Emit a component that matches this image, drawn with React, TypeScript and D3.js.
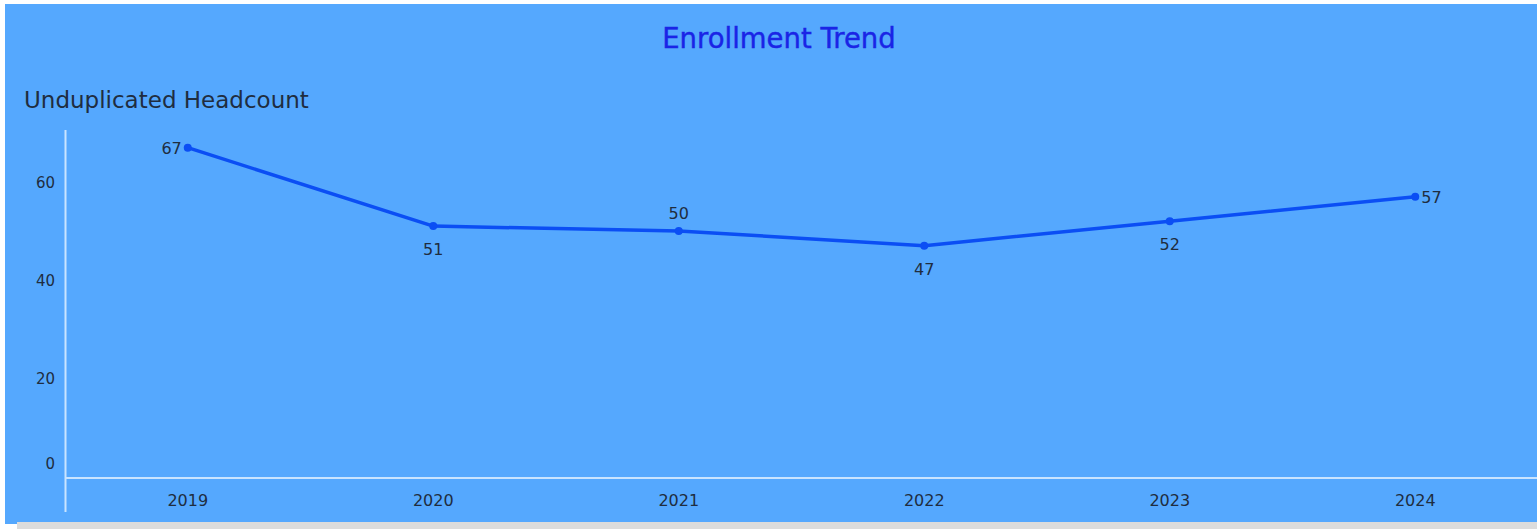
import React from "react";
import * as d3 from "d3";

const years = ["2019", "2020", "2021", "2022", "2023", "2024"];
const headcount = [67, 51, 50, 47, 52, 57];
const labelPos = ["left", "below", "above", "below", "below", "right"];
const yTicks = [0, 20, 40, 60];

const W = 1537;
const H = 529;

export default function App() {
  const x = d3.scaleBand<string>().domain(years).range([65, 1538]);
  const y = d3.scaleLinear().domain([0, 60]).range([476, 182]);
  const cx = (d: string) => (x(d) as number) + x.bandwidth() / 2;
  const line = d3
    .line<number>()
    .x((_, i) => cx(years[i]))
    .y((v) => y(v));
  const textColor = "#1f2d40";
  const font = "'DejaVu Sans', 'Noto Sans', sans-serif";

  return (
    <svg
      width={W}
      height={H}
      style={{ position: "absolute", left: 0, top: 0, display: "block" }}
      fontFamily={font}
    >
      <rect x={0} y={0} width={W} height={H} fill="#ffffff" />
      <rect x={5} y={4} width={W - 5} height={520} fill="#55a8fe" />
      <rect x={17} y={522} width={W - 17} height={7} fill="#dcdcdc" />
      <text
        x={779}
        y={48}
        textAnchor="middle"
        fontSize={27.5}
        fill="#1a24e6"
        stroke="#1a24e6"
        strokeWidth={0.4}
      >
        Enrollment Trend
      </text>
      <text x={24} y={108} fontSize={23} fill={textColor}>
        Unduplicated Headcount
      </text>
      {/* axes */}
      <line x1={65.5} x2={65.5} y1={130} y2={512} stroke="#c9e4ff" strokeWidth={2} />
      <line x1={65} x2={W} y1={478} y2={478} stroke="#c9e4ff" strokeWidth={2} />
      {yTicks.map((t) => (
        <text
          key={t}
          x={55}
          y={t === 0 ? y(t) - 12 + 5 : y(t) + 6}
          textAnchor="end"
          fontSize={15}
          fill={textColor}
        >
          {t}
        </text>
      ))}
      {years.map((yr) => (
        <text key={yr} x={cx(yr)} y={506} textAnchor="middle" fontSize={16} fill={textColor}>
          {yr}
        </text>
      ))}
      <path d={line(headcount) || ""} fill="none" stroke="#0b4ef4" strokeWidth={3.5} strokeLinejoin="round" />
      {headcount.map((v, i) => (
        <circle key={i} cx={cx(years[i])} cy={y(v)} r={4} fill="#0b4ef4" />
      ))}
      {headcount.map((v, i) => {
        const px = cx(years[i]);
        const py = y(v);
        const pos = labelPos[i];
        let tx = px;
        let ty = py;
        let anchor: "start" | "middle" | "end" = "middle";
        if (pos === "left") {
          tx = px - 6;
          ty = py + 6;
          anchor = "end";
        } else if (pos === "right") {
          tx = px + 6;
          ty = py + 6;
          anchor = "start";
        } else if (pos === "above") {
          ty = py - 12;
        } else {
          ty = py + 29;
        }
        return (
          <text key={"l" + i} x={tx} y={ty} textAnchor={anchor} fontSize={16} fill={textColor}>
            {v}
          </text>
        );
      })}
    </svg>
  );
}
